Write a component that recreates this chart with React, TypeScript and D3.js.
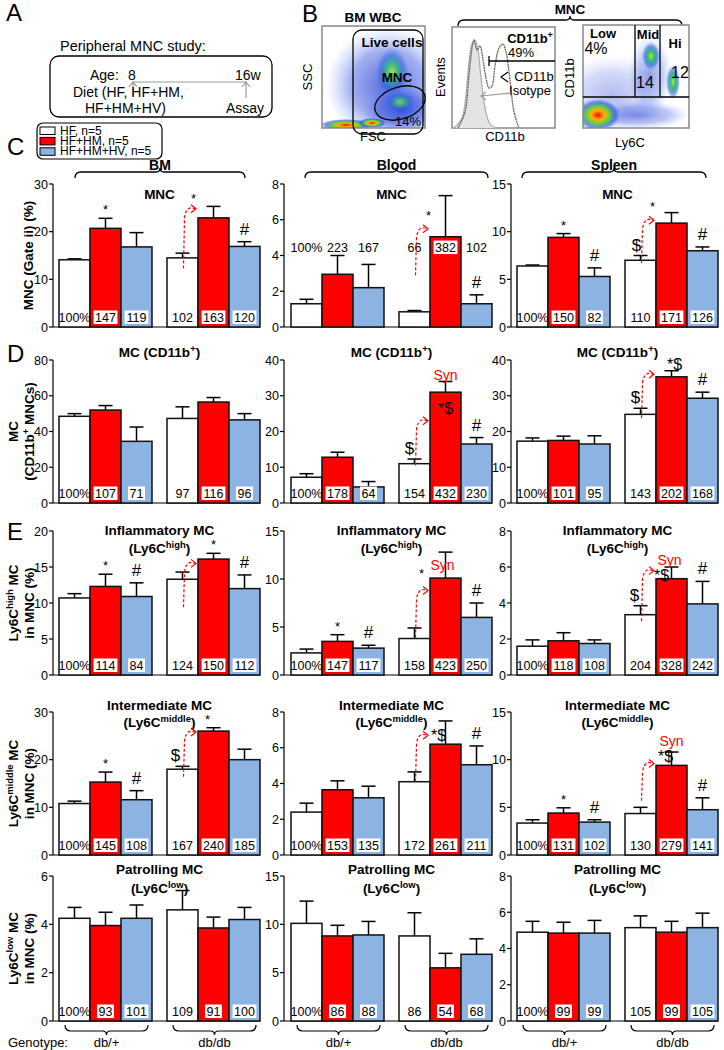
import React from 'react';
import * as d3 from 'd3';

const FONT = "Arial, 'Liberation Sans', Helvetica, sans-serif";

const GROUPS = ['db/+', 'db/db'];
const SERIES = ['HF, n=5', 'HF+HM, n=5', 'HF+HM+HV, n=5'];
const FILLS = ['#ffffff', '#ff0000', '#8db3e2'];
const TISSUES = ['BM', 'Blood', 'Spleen'];

// bar order: HF, HF+HM, HF+HM+HV (db/+) then the same for db/db
// C: MNC (Gate ii) (%)
const mncBmMean = [14.1, 20.7, 16.8, 14.5, 22.9, 16.9];
const mncBmErr = [0.2, 2.1, 3.0, 1.0, 2.4, 1.0];
const mncBmPct = ['100%', '147', '119', '102', '163', '120'];
const mncBloodMean = [1.3, 2.95, 2.2, 0.85, 5.05, 1.3];
const mncBloodErr = [0.25, 1.05, 1.3, 0.07, 2.3, 0.5];
const mncBloodPct = ['100%', '223', '167', '66', '382', '102'];
const mncSpleenMean = [6.4, 9.4, 5.3, 7.0, 10.9, 8.0];
const mncSpleenErr = [0.1, 0.4, 0.9, 0.5, 1.1, 0.4];
const mncSpleenPct = ['100%', '150', '82', '110', '171', '126'];

// D: MC (CD11b+)
const mcBmMean = [48.5, 52.0, 34.5, 47.3, 56.5, 46.5];
const mcBmErr = [1.5, 2.5, 8.0, 6.5, 2.5, 3.5];
const mcBmPct = ['100%', '107', '71', '97', '116', '96'];
const mcBloodMean = [7.2, 12.8, 4.5, 11.0, 31.0, 16.5];
const mcBloodErr = [1.0, 1.4, 1.5, 1.3, 3.0, 1.8];
const mcBloodPct = ['100%', '178', '64', '154', '432', '230'];
const mcSpleenMean = [17.3, 17.5, 16.5, 24.8, 35.3, 29.3];
const mcSpleenErr = [0.9, 1.2, 2.3, 1.7, 1.7, 1.7];
const mcSpleenPct = ['100%', '101', '95', '143', '202', '168'];

// E: inflammatory (Ly6C high)
const infBmMean = [10.7, 12.3, 10.9, 13.3, 16.1, 12.0];
const infBmErr = [0.6, 1.7, 1.9, 1.0, 0.8, 1.9];
const infBmPct = ['100%', '114', '84', '124', '150', '112'];
const infBloodMean = [2.3, 3.5, 2.8, 3.8, 10.1, 6.0];
const infBloodErr = [0.4, 0.7, 0.3, 1.1, 2.7, 1.5];
const infBloodPct = ['100%', '147', '117', '158', '423', '250'];
const infSpleenMean = [1.6, 1.9, 1.75, 3.35, 5.35, 3.95];
const infSpleenErr = [0.35, 0.45, 0.2, 0.5, 0.65, 1.25];
const infSpleenPct = ['100%', '118', '108', '204', '328', '242'];

// intermediate (Ly6C middle)
const midBmMean = [10.8, 15.3, 11.6, 18.0, 26.0, 20.0];
const midBmErr = [0.5, 2.1, 1.9, 0.6, 0.7, 2.2];
const midBmPct = ['100%', '145', '108', '167', '240', '185'];
const midBloodMean = [2.4, 3.65, 3.2, 4.1, 6.2, 5.05];
const midBloodErr = [0.5, 0.5, 0.65, 0.55, 1.3, 1.05];
const midBloodPct = ['100%', '153', '135', '172', '261', '211'];
const midSpleenMean = [3.35, 4.4, 3.45, 4.35, 9.4, 4.75];
const midSpleenErr = [0.35, 0.55, 0.25, 0.65, 1.4, 1.25];
const midSpleenPct = ['100%', '131', '102', '130', '279', '141'];

// patrolling (Ly6C low)
const patBmMean = [4.25, 3.95, 4.25, 4.6, 3.85, 4.2];
const patBmErr = [0.45, 0.55, 0.55, 0.8, 0.45, 0.5];
const patBmPct = ['100%', '93', '101', '109', '91', '100'];
const patBloodMean = [10.1, 8.8, 8.9, 8.8, 5.5, 6.9];
const patBloodErr = [2.3, 1.1, 1.4, 2.4, 1.5, 1.6];
const patBloodPct = ['100%', '86', '88', '86', '54', '68'];
const patSpleenMean = [4.9, 4.85, 4.85, 5.15, 4.9, 5.15];
const patSpleenErr = [0.6, 0.6, 0.7, 0.65, 0.6, 0.8];
const patSpleenPct = ['100%', '99', '99', '105', '99', '105'];

// significance marks: bar index, symbol, optional value level / shift
type Mark = { bar: number; text: string; v?: number; dx?: number; red?: boolean };
const mncBmMarks: Mark[] = [{ bar: 1, text: '*' }, { bar: 4, text: '*', v: 26, dx: -20 }, { bar: 5, text: '#' }];
const mncBloodMarks: Mark[] = [{ bar: 4, text: '*', v: 6.0, dx: -17 }, { bar: 5, text: '#' }];
const mncSpleenMarks: Mark[] = [{ bar: 1, text: '*' }, { bar: 2, text: '#' }, { bar: 3, text: '$', dx: -4 }, { bar: 4, text: '*', v: 12.2, dx: -19 }, { bar: 5, text: '#' }];
const mcBloodMarks: Mark[] = [{ bar: 3, text: '$', dx: -5 }, { bar: 4, text: '*$', v: 24.8 }, { bar: 4, text: 'Syn', v: 34.5, red: true }, { bar: 5, text: '#' }];
const mcSpleenMarks: Mark[] = [{ bar: 3, text: '$', dx: -5 }, { bar: 4, text: '*$', v: 37.3, dx: 3 }, { bar: 5, text: '#' }];
const infBmMarks: Mark[] = [{ bar: 1, text: '*' }, { bar: 2, text: '#' }, { bar: 4, text: '*' }, { bar: 5, text: '#' }];
const infBloodMarks: Mark[] = [{ bar: 1, text: '*' }, { bar: 2, text: '#' }, { bar: 4, text: '*', v: 10.1, dx: -24 }, { bar: 4, text: 'Syn', v: 10.9, dx: -3, red: true }, { bar: 5, text: '#' }];
const infSpleenMarks: Mark[] = [{ bar: 3, text: '$', dx: -6 }, { bar: 4, text: '*$', v: 5.2, dx: -10 }, { bar: 4, text: 'Syn', v: 6.1, dx: -2, red: true }, { bar: 5, text: '#' }];
const midBmMarks: Mark[] = [{ bar: 1, text: '*' }, { bar: 2, text: '#' }, { bar: 3, text: '$', dx: -7 }, { bar: 4, text: '*', dx: -6 }];
const midBloodMarks: Mark[] = [{ bar: 4, text: '*$', v: 6.4, dx: -7 }, { bar: 5, text: '#' }];
const midSpleenMarks: Mark[] = [{ bar: 1, text: '*' }, { bar: 2, text: '#' }, { bar: 4, text: '*$', v: 9.8, dx: -6 }, { bar: 4, text: 'Syn', v: 11.4, red: true }, { bar: 5, text: '#' }];

// red dashed "synergy" arrows: [from, to] in data units
const mncBmArrow = [12.3, 24.8];
const mncBloodArrow = [2.9, 5.5];
const mncSpleenArrow = [6.7, 11.2];
const mcBloodArrow = [10.5, 23];
const mcSpleenArrow = [23.7, 36];
const infBmArrow = [9.4, 15.5];
const infBloodArrow = [3.9, 8.8];
const infSpleenArrow = [3.0, 5.8];
const midBmArrow = [16.4, 25.8];
const midBloodArrow = [4.1, 6.7];
const midSpleenArrow = [5.7, 9.6];

const ROW_TITLES = [
  ['MNC'],
  ['MC (CD11b^{+})'],
  ['Inflammatory MC', '(Ly6C^{high})'],
  ['Intermediate MC', '(Ly6C^{middle})'],
  ['Patrolling MC', '(Ly6C^{low})'],
];
const ROW_YLABELS = [
  ['MNC (Gate ii) (%)'],
  ['MC', '(CD11b^{+} MNCs)'],
  ['Ly6C^{high} MC', 'in MNC (%)'],
  ['Ly6C^{middle} MC', 'in MNC (%)'],
  ['Ly6C^{low} MC', 'in MNC (%)'],
];

const COLS = [
  { axis: 53, x0: 59 },
  { axis: 284, x0: 291 },
  { axis: 511, x0: 517 },
];
const ROWS = [
  { base: 327, top: 184, titleY: [199] },
  { base: 503, top: 360, titleY: [357] },
  { base: 675, top: 531, titleY: [535, 553] },
  { base: 855, top: 712, titleY: [710, 727] },
  { base: 1021, top: 876, titleY: [874, 893] },
];
const GROUP_W = 201;

type PanelSpec = {
  row: number; col: number; max: number; step: number;
  mean: number[]; err: number[]; pct: string[];
  marks?: Mark[]; arrow?: number[]; labelV?: number;
};

const PANELS: PanelSpec[] = [
  { row: 0, col: 0, max: 30, step: 10, mean: mncBmMean, err: mncBmErr, pct: mncBmPct, marks: mncBmMarks, arrow: mncBmArrow },
  { row: 0, col: 1, max: 8, step: 2, mean: mncBloodMean, err: mncBloodErr, pct: mncBloodPct, marks: mncBloodMarks, arrow: mncBloodArrow, labelV: 4.5 },
  { row: 0, col: 2, max: 15, step: 5, mean: mncSpleenMean, err: mncSpleenErr, pct: mncSpleenPct, marks: mncSpleenMarks, arrow: mncSpleenArrow },
  { row: 1, col: 0, max: 80, step: 20, mean: mcBmMean, err: mcBmErr, pct: mcBmPct },
  { row: 1, col: 1, max: 40, step: 10, mean: mcBloodMean, err: mcBloodErr, pct: mcBloodPct, marks: mcBloodMarks, arrow: mcBloodArrow },
  { row: 1, col: 2, max: 40, step: 10, mean: mcSpleenMean, err: mcSpleenErr, pct: mcSpleenPct, marks: mcSpleenMarks, arrow: mcSpleenArrow },
  { row: 2, col: 0, max: 20, step: 5, mean: infBmMean, err: infBmErr, pct: infBmPct, marks: infBmMarks, arrow: infBmArrow },
  { row: 2, col: 1, max: 15, step: 5, mean: infBloodMean, err: infBloodErr, pct: infBloodPct, marks: infBloodMarks, arrow: infBloodArrow },
  { row: 2, col: 2, max: 8, step: 2, mean: infSpleenMean, err: infSpleenErr, pct: infSpleenPct, marks: infSpleenMarks, arrow: infSpleenArrow },
  { row: 3, col: 0, max: 30, step: 10, mean: midBmMean, err: midBmErr, pct: midBmPct, marks: midBmMarks, arrow: midBmArrow },
  { row: 3, col: 1, max: 8, step: 2, mean: midBloodMean, err: midBloodErr, pct: midBloodPct, marks: midBloodMarks, arrow: midBloodArrow },
  { row: 3, col: 2, max: 15, step: 5, mean: midSpleenMean, err: midSpleenErr, pct: midSpleenPct, marks: midSpleenMarks, arrow: midSpleenArrow },
  { row: 4, col: 0, max: 6, step: 2, mean: patBmMean, err: patBmErr, pct: patBmPct },
  { row: 4, col: 1, max: 15, step: 5, mean: patBloodMean, err: patBloodErr, pct: patBloodPct },
  { row: 4, col: 2, max: 8, step: 2, mean: patSpleenMean, err: patSpleenErr, pct: patSpleenPct },
];

// flow histogram outlines (panel B)
const isotypeCurve: [number, number][] = [[454, 128], [462, 118], [466, 95], [469, 62], [472, 44], [475, 40], [478, 50], [481, 78], [485, 108], [490, 124], [496, 128]];
const cd11bCurve: [number, number][] = [[458, 128], [465, 112], [469, 75], [472, 48], [474, 40], [477, 50], [480, 46], [483, 60], [486, 78], [489, 88], [492, 86], [495, 66], [499, 48], [503, 44], [506, 52], [510, 80], [514, 112], [519, 128]];

const MARK_STYLE: Record<string, { size: number; off: number }> = {
  '*': { size: 13, off: 4 },
  '#': { size: 17, off: 7 },
  '$': { size: 17, off: 5 },
  '*$': { size: 16, off: 4 },
  Syn: { size: 14, off: 4 },
};

function rich(s: string) {
  const parts = s.split(/\^\{([^}]*)\}/);
  const out: React.ReactNode[] = [];
  let shift = 0;
  parts.forEach((t, i) => {
    if (!t) return;
    if (i % 2 === 1) {
      out.push(<tspan key={i} dy={-5 - shift} fontSize="0.7em">{t}</tspan>);
      shift = 5;
    } else {
      out.push(<tspan key={i} dy={shift}>{t}</tspan>);
      shift = 0;
    }
  });
  return out;
}

const textW = (s: string) => s.replace('%', '').length * 6.95 + (s.includes('%') ? 11 : 0);

function BarPanel({ p }: { p: PanelSpec }) {
  const col = COLS[p.col];
  const row = ROWS[p.row];
  const y = d3.scaleLinear().domain([0, p.max]).range([row.base, row.top]);
  const gx = d3.scaleBand<string>().domain(GROUPS).range([col.x0, col.x0 + GROUP_W]).paddingInner(15 / 108);
  const sx = d3.scaleBand<string>().domain(SERIES).range([0, gx.bandwidth()]);
  const bw = sx.bandwidth();
  const bx = (i: number) => (gx(GROUPS[Math.floor(i / 3)]) as number) + (sx(SERIES[i % 3]) as number);
  const ticks = d3.range(0, p.max + p.step / 2, p.step);
  const xEnd = col.x0 + GROUP_W;
  const labelBase = p.labelV != null ? y(p.labelV) + 5 : y(0) - 5.5;
  const cx = col.x0 + GROUP_W / 2;

  let arrow = null;
  if (p.arrow) {
    const xa = bx(3) + bw / 2 + 1;
    const xt = bx(4) - 2;
    const ys = y(p.arrow[0]);
    const ye = y(p.arrow[1]);
    arrow = (
      <g stroke="#ff0000" fill="none" strokeWidth={1.2}>
        <path d={`M${xa},${ys} L${xa + 1},${ye + 9} Q${xa + 2},${ye} ${xa + 7},${ye - 1} L${xt},${ye}`} strokeDasharray="3,2" />
        <path d={`M${xt - 5},${ye - 4} L${xt},${ye} L${xt - 5},${ye + 4}`} />
      </g>
    );
  }

  return (
    <g fontFamily={FONT}>
      {/* title */}
      {ROW_TITLES[p.row].map((t, i) => (
        <text key={i} x={cx} y={row.titleY[i]} textAnchor="middle" fontWeight="bold" fontSize={13.5}>{rich(t)}</text>
      ))}
      {/* axes */}
      <line x1={col.axis} x2={col.axis} y1={y(0)} y2={y(p.max)} stroke="#000" strokeWidth={1.2} />
      <line x1={col.axis} x2={xEnd} y1={y(0)} y2={y(0)} stroke="#000" strokeWidth={1.2} />
      {ticks.map((t) => (
        <g key={t}>
          <line x1={col.axis - 4} x2={col.axis} y1={y(t)} y2={y(t)} stroke="#000" strokeWidth={1.2} />
          <text x={col.axis - 5} y={y(t) + 4.5} textAnchor="end" fontSize={12.5}>{t}</text>
        </g>
      ))}
      {/* bars */}
      {p.mean.map((m, i) => (
        <g key={i}>
          <line x1={bx(i) + bw / 2} x2={bx(i) + bw / 2} y1={y(m)} y2={y(m + p.err[i])} stroke="#000" strokeWidth={1.5} />
          <line x1={bx(i) + bw / 2 - 7} x2={bx(i) + bw / 2 + 7} y1={y(m + p.err[i])} y2={y(m + p.err[i])} stroke="#000" strokeWidth={1.5} />
          <rect x={bx(i)} y={y(m)} width={bw} height={y(0) - y(m)} fill={FILLS[i % 3]} stroke="#111" strokeWidth={1.5} />
        </g>
      ))}
      {/* percentage labels */}
      {p.pct.map((s, i) => {
        const xc = bx(i) + bw / 2;
        const w = textW(s);
        return (
          <g key={i}>
            {(i % 3 !== 0 || (p.labelV != null && i === 4)) && (
              <rect x={xc - w / 2 - 1.5} y={labelBase - 11} width={w + 3} height={13.5} fill="#fff" />
            )}
            <text x={xc} y={labelBase} textAnchor="middle" fontSize={12.5}>{s}</text>
          </g>
        );
      })}
      {arrow}
      {(p.marks || []).map((mk, i) => {
        const st = MARK_STYLE[mk.text];
        const yb = mk.v != null ? y(mk.v) : y(p.mean[mk.bar] + p.err[mk.bar]) - st.off;
        return (
          <text key={i} x={bx(mk.bar) + bw / 2 + (mk.dx || 0)} y={yb} textAnchor="middle" fontSize={st.size} fill={mk.red ? '#ff0000' : '#000'}>{mk.text}</text>
        );
      })}
    </g>
  );
}

// curly brackets
function bracketDown(x1: number, x2: number, y: number) {
  const xm = (x1 + x2) / 2;
  return `M${x1},${y + 6} Q${x1},${y} ${x1 + 6},${y} L${xm - 4},${y} Q${xm},${y} ${xm},${y - 4} Q${xm},${y} ${xm + 4},${y} L${x2 - 6},${y} Q${x2},${y} ${x2},${y + 6}`;
}
function bracketUp(x1: number, x2: number, y: number) {
  const xm = (x1 + x2) / 2;
  return `M${x1},${y - 6} Q${x1},${y} ${x1 + 6},${y} L${xm - 4},${y} Q${xm},${y} ${xm},${y + 4} Q${xm},${y} ${xm + 4},${y} L${x2 - 6},${y} Q${x2},${y} ${x2},${y - 6}`;
}

function PanelA() {
  return (
    <g fontFamily={FONT}>
      <text x={6} y={21} fontSize={24}>A</text>
      <text x={60} y={51} fontSize={14.5}>Peripheral MNC study:</text>
      <rect x={50} y={56} width={222} height={61} rx={9} fill="none" stroke="#000" strokeWidth={1.3} />
      <text x={90} y={80} fontSize={14}>Age:</text>
      <text x={128} y={80} fontSize={14}>8</text>
      <text x={235} y={80} fontSize={14}>16w</text>
      <g stroke="#999" fill="none" strokeWidth={1.2}>
        <line x1={133} x2={246} y1={82} y2={82} />
        <line x1={133} x2={133} y1={96} y2={82} />
        <path d="M129,87 L133,82 L137,87" />
        <line x1={246} x2={246} y1={98} y2={82} />
        <path d="M242,87 L246,82 L250,87" />
      </g>
      <text x={73} y={97} fontSize={14}>Diet (HF, HF+HM,</text>
      <text x={85} y={113} fontSize={14}>HF+HM+HV)</text>
      <text x={226} y={113} fontSize={14}>Assay</text>
    </g>
  );
}

function PanelB() {
  const line = d3.line().curve(d3.curveCatmullRom);
  return (
    <g fontFamily={FONT}>
      <defs>
        <radialGradient id="gBlue">
          <stop offset="0" stopColor="#1a34d0" stopOpacity={0.75} />
          <stop offset="0.6" stopColor="#3050e0" stopOpacity={0.45} />
          <stop offset="1" stopColor="#7090ff" stopOpacity={0} />
        </radialGradient>
        <radialGradient id="gGreen">
          <stop offset="0" stopColor="#b8e830" />
          <stop offset="0.35" stopColor="#30c070" />
          <stop offset="0.7" stopColor="#1e6ad8" stopOpacity={0.6} />
          <stop offset="1" stopColor="#3050e0" stopOpacity={0} />
        </radialGradient>
        <radialGradient id="gHot">
          <stop offset="0" stopColor="#e81010" />
          <stop offset="0.3" stopColor="#ffb000" />
          <stop offset="0.55" stopColor="#60d040" />
          <stop offset="0.8" stopColor="#2050e0" stopOpacity={0.6} />
          <stop offset="1" stopColor="#2050e0" stopOpacity={0} />
        </radialGradient>
        <clipPath id="clipB1"><rect x={322} y={26} width={103} height={102} /></clipPath>
        <clipPath id="clipB3"><rect x={583} y={25} width={106} height={103} /></clipPath>
      </defs>
      <text x={302} y={22} fontSize={24}>B</text>

      {/* BM WBC dot plot */}
      <text x={373} y={22} textAnchor="middle" fontWeight="bold" fontSize={13.5}>BM WBC</text>
      <g clipPath="url(#clipB1)">
        <rect x={322} y={26} width={103} height={102} fill="#fff" />
        <ellipse cx={388} cy={85} rx={62} ry={58} fill="url(#gBlue)" />
        <ellipse cx={402} cy={110} rx={40} ry={25} fill="url(#gBlue)" />
        <ellipse cx={392} cy={72} rx={16} ry={24} fill="url(#gGreen)" opacity={0.85} />
        <ellipse cx={400} cy={102} rx={15} ry={10} fill="url(#gGreen)" opacity={0.7} />
        <ellipse cx={346} cy={125} rx={26} ry={6} fill="url(#gHot)" />
        <ellipse cx={372} cy={123} rx={14} ry={5} fill="url(#gHot)" />
      </g>
      <rect x={322} y={26} width={103} height={102} fill="none" stroke="#888" strokeWidth={1.5} />
      <rect x={353} y={30} width={70} height={104} rx={9} fill="none" stroke="#000" strokeWidth={1.3} />
      <text x={392} y={47} textAnchor="middle" fontWeight="bold" fontSize={13.5}>Live cells</text>
      <text x={397} y={82} textAnchor="middle" fontWeight="bold" fontSize={13.5}>MNC</text>
      <ellipse cx={400} cy={103} rx={26} ry={16} transform="rotate(-18,400,103)" fill="none" stroke="#000" strokeWidth={1.3} />
      <text x={408} y={126} textAnchor="middle" fontSize={13}>14%</text>
      <text x={312} y={77} textAnchor="middle" fontSize={13} transform="rotate(-90,312,77)">SSC</text>
      <text x={373} y={141} textAnchor="middle" fontSize={13}>FSC</text>

      {/* MNC bracket */}
      <text x={570} y={14} textAnchor="middle" fontWeight="bold" fontSize={13.5}>MNC</text>
      <path d={bracketDown(458, 682, 20)} fill="none" stroke="#000" strokeWidth={1.3} />

      {/* CD11b histogram */}
      <rect x={452} y={27} width={103} height={101} fill="#fff" stroke="#888" strokeWidth={1.5} />
      <path d={line(isotypeCurve) as string} fill="#e4e4e4" stroke="#aaa" strokeWidth={1.2} />
      <path d={line(cd11bCurve) as string} fill="none" stroke="#666" strokeWidth={1.3} strokeDasharray="2,0.6" />
      <line x1={489} x2={555} y1={61} y2={61} stroke="#000" strokeWidth={1.3} />
      <line x1={489} x2={489} y1={56} y2={66} stroke="#000" strokeWidth={1.3} />
      <text x={530} y={43} textAnchor="middle" fontWeight="bold" fontSize={13}>CD11b<tspan dy={-5} fontSize={9}>+</tspan></text>
      <text x={521} y={57} textAnchor="middle" fontSize={13}>49%</text>
      <path d="M508,72 L501,77 L508,82" fill="none" stroke="#000" strokeWidth={1.1} />
      <text x={534} y={81} textAnchor="middle" fontSize={13}>CD11b</text>
      <text x={530} y={95} textAnchor="middle" fontSize={13}>Isotype</text>
      <path d="M511,93 L481,96 M486,92 L481,96 L486,100" fill="none" stroke="#999" strokeWidth={1.1} />
      <text x={445} y={77} textAnchor="middle" fontSize={13} transform="rotate(-90,445,77)">Events</text>
      <text x={505} y={141} textAnchor="middle" fontSize={13}>CD11b</text>

      {/* Ly6C dot plot */}
      <g clipPath="url(#clipB3)">
        <rect x={583} y={25} width={106} height={103} fill="#fff" />
        <ellipse cx={612} cy={95} rx={52} ry={40} fill="url(#gBlue)" opacity={0.45} />
        <ellipse cx={650} cy={75} rx={22} ry={40} fill="url(#gBlue)" opacity={0.6} />
        <ellipse cx={640} cy={115} rx={50} ry={14} fill="url(#gBlue)" opacity={0.7} />
        <ellipse cx={598} cy={115} rx={22} ry={16} fill="url(#gHot)" />
        <ellipse cx={651} cy={56} rx={9} ry={14} fill="url(#gGreen)" />
        <ellipse cx={673} cy={82} rx={7} ry={17} fill="url(#gGreen)" />
      </g>
      <rect x={583} y={25} width={106} height={103} fill="none" stroke="#888" strokeWidth={1.5} />
      <g stroke="#000" strokeWidth={1.3}>
        <line x1={635} x2={635} y1={25} y2={97} />
        <line x1={660} x2={660} y1={25} y2={97} />
        <line x1={583} x2={689} y1={97} y2={97} />
      </g>
      <text x={603} y={38} textAnchor="middle" fontWeight="bold" fontSize={13}>Low</text>
      <text x={596} y={54} textAnchor="middle" fontSize={16}>4%</text>
      <text x={648} y={39} textAnchor="middle" fontWeight="bold" fontSize={13}>Mid</text>
      <text x={675} y={48} textAnchor="middle" fontWeight="bold" fontSize={13}>Hi</text>
      <text x={645} y={88} textAnchor="middle" fontSize={16}>14</text>
      <text x={680} y={78} textAnchor="middle" fontSize={16}>12</text>
      <text x={574} y={78} textAnchor="middle" fontSize={13} transform="rotate(-90,574,78)">CD11b</text>
      <text x={630} y={147} textAnchor="middle" fontSize={13}>Ly6C</text>
    </g>
  );
}

function Legend() {
  return (
    <g fontFamily={FONT}>
      <rect x={37} y={123} width={125} height={36} rx={6} fill="#fff" stroke="#000" strokeWidth={1.2} />
      {SERIES.map((s, i) => (
        <g key={s}>
          <rect x={40} y={127 + i * 10.4} width={15} height={7.5} fill={FILLS[i]} stroke="#000" strokeWidth={1} />
          <text x={60} y={134.5 + i * 10.4} fontSize={12}>{s}</text>
        </g>
      ))}
    </g>
  );
}

export default function App() {
  const letters = [['C', 155], ['D', 362], ['E', 540]] as const;
  const tissueSpan = [[75, 245], [305, 488], [522, 706]];
  return (
    <svg width={724} height={1050} style={{ position: 'absolute', left: 0, top: 0 }} fontFamily={FONT}>
      <rect width={724} height={1050} fill="#fff" />
      <PanelA />
      <PanelB />
      {letters.map(([l, yy]) => (
        <text key={l} x={7} y={yy} fontSize={24}>{l}</text>
      ))}
      {TISSUES.map((t, i) => (
        <g key={t}>
          <path d={bracketDown(tissueSpan[i][0], tissueSpan[i][1], 172)} fill="none" stroke="#000" strokeWidth={1.3} />
          <text x={(tissueSpan[i][0] + tissueSpan[i][1]) / 2} y={170} textAnchor="middle" fontWeight="bold" fontSize={14}>{t}</text>
        </g>
      ))}
      <Legend />
      {ROW_YLABELS.map((lines, r) => {
        const yc = (ROWS[r].base + ROWS[r].top) / 2;
        const xs = lines.length === 1 ? [33] : [18, 34];
        return lines.map((l, k) => (
          <text key={`${r}-${k}`} x={xs[k]} y={yc} textAnchor="middle" fontWeight="bold" fontSize={13.5} transform={`rotate(-90,${xs[k]},${yc})`}>{rich(l)}</text>
        ));
      })}
      {PANELS.map((p, i) => <BarPanel key={i} p={p} />)}
      {/* genotype brackets */}
      <text x={8} y={1047} fontSize={13}>Genotype:</text>
      {COLS.map((c, ci) => {
        const gx = d3.scaleBand<string>().domain(GROUPS).range([c.x0, c.x0 + GROUP_W]).paddingInner(15 / 108);
        return GROUPS.map((g) => {
          const x1 = (gx(g) as number) + 6;
          const x2 = (gx(g) as number) + gx.bandwidth() - 4;
          return (
            <g key={`${ci}-${g}`}>
              <path d={bracketUp(x1, x2, 1031)} fill="none" stroke="#000" strokeWidth={1.2} />
              <text x={(x1 + x2) / 2} y={1047} textAnchor="middle" fontSize={13}>{g}</text>
            </g>
          );
        });
      })}
    </svg>
  );
}
